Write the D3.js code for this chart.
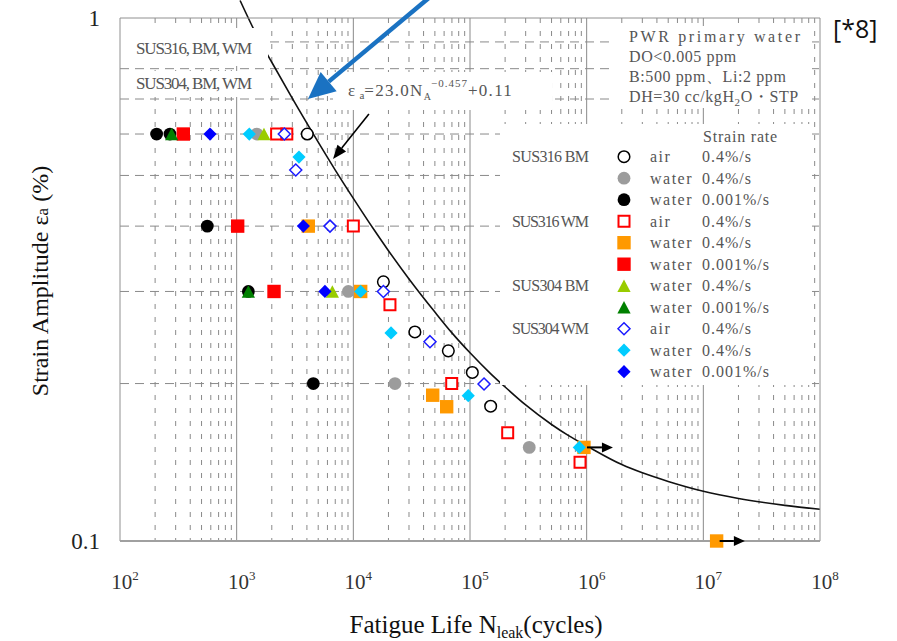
<!DOCTYPE html>
<html>
<head>
<meta charset="utf-8">
<script src="https://cdn.jsdelivr.net/npm/d3@7"></script>
<style>
  body { margin: 0; background: #fff; }
  svg { display: block; }
</style>
</head>
<body>
<svg id="chart" width="897" height="641"></svg>
<script>
////////////////////////////////   DATA   ////////////////////////////////////
// decades on the x axis (10^2 .. 10^8)
var decades = [2, 3, 4, 5, 6, 7, 8];
var yTicks = [1, 0.1];
// dashed horizontal grid levels (strain amplitude, %)
var gridLevels = [0.2, 0.3, 0.4, 0.5, 0.6, 0.7, 0.8, 0.9];

// [cycles, strain amplitude %]
var s316bmAir    = [[4030, 0.6], [18100, 0.313], [33700, 0.251], [65200, 0.231], [104700, 0.210], [150300, 0.181]];
var s316bmW04    = [[1490, 0.6], [9060, 0.3], [22750, 0.2], [322000, 0.151]];
var s316bmW0001  = [[206, 0.6], [268, 0.6], [560, 0.4], [1260, 0.3], [4540, 0.2]];
var s316wmAir    = [[2200, 0.6], [2690, 0.6], [10000, 0.4], [20600, 0.283], [69700, 0.2], [210400, 0.161], [877000, 0.1414]];
var s316wmW04    = [[4110, 0.4], [11560, 0.3], [47900, 0.190], [63100, 0.1806], [948000, 0.151], [13000000, 0.1]];
var s316wmW0001  = [[349, 0.6], [1020, 0.4], [2090, 0.3]];
var s304bmW04    = [[1714, 0.6], [6610, 0.3]];
var s304bmW0001  = [[277, 0.6], [1260, 0.3]];
var s304wmAir    = [[2560, 0.6], [3210, 0.512], [6310, 0.4], [18100, 0.3], [45400, 0.2405], [131900, 0.1996]];
var s304wmW04    = [[1283, 0.6], [3420, 0.542], [11560, 0.3], [21040, 0.250], [96600, 0.1896], [865000, 0.151]];
var s304wmW0001  = [[591, 0.6], [3730, 0.4], [5710, 0.3]];

// run-outs: [cycles, strain, arrow end cycles]
var runouts = [[948000, 0.151, 1680000], [13000000, 0.1, 22700000]];

// design curve: [cycles, strain]
var curvePts = [[1070, 1.08], [1500, 0.923], [2000, 0.823], [3000, 0.702], [5000, 0.579], [7000, 0.512],
  [10000, 0.452], [15000, 0.394], [20000, 0.359], [30000, 0.317], [50000, 0.274], [70000, 0.250],
  [100000, 0.229], [150000, 0.209], [200000, 0.197], [300000, 0.182], [500000, 0.167], [700000, 0.159],
  [1000000, 0.152], [2000000, 0.140], [3000000, 0.135], [5000000, 0.130], [10000000, 0.1245],
  [20000000, 0.1206], [50000000, 0.117], [100000000, 0.115]];

var seriesGroups = ['SUS316 BM', '', '', 'SUS316 WM', '', '', 'SUS304 BM', '', 'SUS304 WM', '', ''];
var seriesEnv    = ['air', 'water', 'water', 'air', 'water', 'water', 'water', 'water', 'air', 'water', 'water'];
var seriesRate   = ['0.4%/s', '0.4%/s', '0.001%/s', '0.4%/s', '0.4%/s', '0.001%/s', '0.4%/s', '0.001%/s', '0.4%/s', '0.4%/s', '0.001%/s'];

var pwrLines = ['PWR primary water', 'DO<0.005 ppm', 'B:500 ppm、Li:2 ppm'];

////////////////////////////////   SETUP   ///////////////////////////////////
var SERIF = '"Liberation Serif", "DejaVu Serif", serif';

var series = [
  { shape: 'circle',   open: true,  color: '#000',    data: s316bmAir },
  { shape: 'circle',   open: false, color: '#9c9c9c', data: s316bmW04 },
  { shape: 'circle',   open: false, color: '#000',    data: s316bmW0001 },
  { shape: 'square',   open: true,  color: '#ff0000', data: s316wmAir },
  { shape: 'square',   open: false, color: '#ff9900', data: s316wmW04 },
  { shape: 'square',   open: false, color: '#ff0000', data: s316wmW0001 },
  { shape: 'triangle', open: false, color: '#99cc00', data: s304bmW04 },
  { shape: 'triangle', open: false, color: '#008000', data: s304bmW0001 },
  { shape: 'diamond',  open: true,  color: '#1a1aff', data: s304wmAir },
  { shape: 'diamond',  open: false, color: '#00ccff', data: s304wmW04 },
  { shape: 'diamond',  open: false, color: '#0000ff', data: s304wmW0001 }
].map(function(s, i) {
  s.grp = seriesGroups[i]; s.env = seriesEnv[i]; s.rate = seriesRate[i];
  return s;
});

var x = d3.scaleLog().domain([1e2, 1e8]).range([120, 820]);
var y = d3.scaleLog().domain([0.1, 1]).range([541, 18]);
var svg = d3.select('#chart').attr('font-family', SERIF);

function markerPath(s) {
  var p = d3.path();
  var r;
  if (s.shape === 'circle') {
    r = s.open ? 5.8 : 6.4;
    return d3.symbol(d3.symbolCircle, Math.PI * r * r)();
  }
  if (s.shape === 'square') {
    r = s.open ? 5.5 : 6.7;
    return d3.symbol(d3.symbolSquare, 4 * r * r)();
  }
  if (s.shape === 'triangle') {
    r = 6.3;
    p.moveTo(0, -r); p.lineTo(r * 1.05, r); p.lineTo(-r * 1.05, r); p.closePath();
    return p.toString();
  }
  r = s.open ? 6 : 6.6;
  p.moveTo(0, -r); p.lineTo(r, 0); p.lineTo(0, r); p.lineTo(-r, 0); p.closePath();
  return p.toString();
}
function styleMarker(sel, s) {
  sel.attr('d', markerPath(s))
    .attr('fill', s.open ? '#fff' : s.color)
    .attr('stroke', s.open ? s.color : 'none')
    .attr('stroke-width', s.shape === 'square' ? 2 : 1.5);
}

//////////////////////////////   GRID   //////////////////////////////////////
var minorN = [];
decades.slice(0, -1).forEach(function(e) {
  d3.range(2, 10).forEach(function(k) { minorN.push(k * Math.pow(10, e)); });
});
var grid = svg.append('g').attr('class', 'grid');
grid.selectAll('line.minor').data(minorN).enter().append('line')
  .attr('class', 'minor')
  .attr('x1', x).attr('x2', x)
  .attr('y1', y(1)).attr('y2', y(0.1))
  .attr('stroke', '#8a8a8a').attr('stroke-width', 1)
  .attr('stroke-dasharray', '5,8');
grid.selectAll('line.major').data(decades.slice(1, -1)).enter().append('line')
  .attr('class', 'major')
  .attr('x1', function(d) { return x(Math.pow(10, d)); })
  .attr('x2', function(d) { return x(Math.pow(10, d)); })
  .attr('y1', y(1)).attr('y2', y(0.1))
  .attr('stroke', '#8a8a8a').attr('stroke-width', 1);
grid.selectAll('line.h').data(gridLevels).enter().append('line')
  .attr('class', 'h')
  .attr('x1', x(1e2)).attr('x2', x(1e8))
  .attr('y1', y).attr('y2', y)
  .attr('stroke', '#8a8a8a').attr('stroke-width', 1)
  .attr('stroke-dasharray', '9,6');

//////////////////////////////   CURVE   /////////////////////////////////////
svg.append('path')
  .datum(curvePts)
  .attr('fill', 'none')
  .attr('stroke', '#111')
  .attr('stroke-width', 1.6)
  .attr('d', d3.line()
    .x(function(d) { return x(d[0]); })
    .y(function(d) { return y(d[1]); })
    .curve(d3.curveMonotoneX));

// white boxes behind the text blocks (they hide the grid there)
var boxes = [[120, 28, 148, 38], [120, 71, 148, 26], [333, 72, 219, 38], [612, 26, 200, 82], [500, 124, 312, 261]];
svg.append('g').selectAll('rect').data(boxes).enter().append('rect')
  .attr('x', function(d) { return d[0]; }).attr('y', function(d) { return d[1]; })
  .attr('width', function(d) { return d[2]; }).attr('height', function(d) { return d[3]; })
  .attr('fill', '#fff');

// frame
var frame = svg.append('g').attr('stroke', '#909090').attr('fill', 'none');
frame.append('line').attr('x1', x(1e2)).attr('x2', x(1e8)).attr('y1', y(1)).attr('y2', y(1));
frame.append('line').attr('x1', x(1e2)).attr('x2', x(1e2)).attr('y1', y(1)).attr('y2', y(0.1));
frame.append('line').attr('x1', x(1e8)).attr('x2', x(1e8)).attr('y1', y(1)).attr('y2', y(0.1));
frame.append('line').attr('x1', x(1e2)).attr('x2', x(1e8)).attr('y1', y(0.1)).attr('y2', y(0.1))
  .attr('stroke', '#a0a0a0').attr('stroke-width', 2.2);

//////////////////////////////   AXES TEXT   /////////////////////////////////
svg.selectAll('text.xt').data(decades).enter().append('text')
  .attr('class', 'xt')
  .attr('x', function(d) { return x(Math.pow(10, d)) + 5; })
  .attr('y', 589)
  .attr('text-anchor', 'middle')
  .attr('font-size', 21).attr('fill', '#333')
  .each(function(d) {
    var t = d3.select(this);
    t.append('tspan').text('10');
    t.append('tspan').attr('dy', -9).attr('font-size', 13).text(d);
  });
svg.selectAll('text.yt').data(yTicks).enter().append('text')
  .attr('class', 'yt')
  .attr('x', 100)
  .attr('y', function(d) { return y(d) + 8; })
  .attr('text-anchor', 'end')
  .attr('font-size', 23).attr('fill', '#222')
  .text(function(d) { return d; });

var xl = svg.append('text')
  .attr('x', 476).attr('y', 633).attr('text-anchor', 'middle')
  .attr('font-size', 25).attr('fill', '#111');
xl.append('tspan').text('Fatigue Life N');
xl.append('tspan').attr('font-size', 16).attr('dy', 5).text('leak');
xl.append('tspan').attr('dy', -5).text('(cycles)');

var yl = svg.append('text')
  .attr('transform', 'translate(48,281) rotate(-90)')
  .attr('text-anchor', 'middle')
  .attr('font-size', 24).attr('fill', '#111');
yl.append('tspan').text('Strain Amplitude ε');
yl.append('tspan').attr('font-size', 17).text('a');
yl.append('tspan').text(' (%)');

//////////////////////////////   LABELS   ////////////////////////////////////
var labelColor = '#555';
svg.append('text').attr('x', 136).attr('y', 54)
  .attr('font-size', 17).attr('fill', labelColor).attr('textLength', 116)
  .text('SUS316, BM, WM');
svg.append('text').attr('x', 136).attr('y', 89)
  .attr('font-size', 17).attr('fill', labelColor).attr('textLength', 116)
  .text('SUS304, BM, WM');

var eq = svg.append('text').attr('x', 348).attr('y', 96)
  .attr('font-size', 17).attr('fill', labelColor);
eq.append('tspan').text('ε ');
eq.append('tspan').attr('font-size', 11).attr('dy', 3).text('a');
eq.append('tspan').attr('dy', -3).attr('letter-spacing', 1.3).text('=23.0N');
eq.append('tspan').attr('font-size', 10).attr('dy', 4).text('A');
eq.append('tspan').attr('font-size', 11).attr('dy', -13).attr('letter-spacing', 1).text('−0.457');
eq.append('tspan').attr('dy', 9).attr('letter-spacing', 1.3).text('+0.11');

var pwr = svg.append('g').attr('font-size', 16).attr('fill', labelColor);
pwr.selectAll('text').data(pwrLines).enter().append('text')
  .attr('x', 629)
  .attr('y', function(d, i) { return 42 + i * 20; })
  .attr('textLength', function(d, i) { return i === 0 ? 171 : null; })
  .attr('letter-spacing', function(d, i) { return i === 0 ? null : 0.6; })
  .text(function(d) { return d; });
var dh = pwr.append('text').attr('x', 629).attr('y', 102).attr('letter-spacing', 0.6);
dh.append('tspan').text('DH=30 cc/kgH');
dh.append('tspan').attr('font-size', 11).attr('dy', 4).text('2');
dh.append('tspan').attr('dy', -4).text('O・STP');

svg.append('text').attr('x', 833).attr('y', 38)
  .attr('font-family', '"Open Sans", "Noto Sans", sans-serif')
  .attr('font-size', 25).attr('fill', '#111').text('[*8]');

//////////////////////////////   LEGEND   ////////////////////////////////////
var leg = svg.append('g').attr('font-size', 16).attr('fill', labelColor);
leg.append('text').attr('x', 703).attr('y', 142).attr('letter-spacing', 0.8).text('Strain rate');
var rows = leg.selectAll('g.row').data(series).enter().append('g')
  .attr('class', 'row')
  .attr('transform', function(d, i) { return 'translate(0,' + (156.7 + i * 21.5) + ')'; });
rows.append('text').attr('x', 512).attr('y', 5.5).attr('textLength', function(d) { return d.grp ? 77 : null; })
  .text(function(d) { return d.grp; });
rows.append('path').attr('transform', 'translate(624,0)')
  .each(function(d) { styleMarker(d3.select(this), d); });
rows.append('text').attr('x', 650).attr('y', 5.5).attr('letter-spacing', 1.5)
  .text(function(d) { return d.env; });
rows.append('text').attr('x', 702).attr('y', 5.5).attr('letter-spacing', 1)
  .text(function(d) { return d.rate; });

//////////////////////////////   POINTS   ////////////////////////////////////
var pts = svg.append('g').attr('class', 'points');
series.forEach(function(s) {
  pts.append('g').selectAll('path').data(s.data).enter().append('path')
    .attr('transform', function(d) { return 'translate(' + x(d[0]) + ',' + y(d[1]) + ')'; })
    .each(function() { styleMarker(d3.select(this), s); });
});

//////////////////////////////   ARROWS   ////////////////////////////////////
function arrow(g, x1, y1, x2, y2, color, width, headLen, headW) {
  var a = Math.atan2(y2 - y1, x2 - x1);
  var bx = x2 - headLen * Math.cos(a), by = y2 - headLen * Math.sin(a);
  g.append('line').attr('x1', x1).attr('y1', y1).attr('x2', bx).attr('y2', by)
    .attr('stroke', color).attr('stroke-width', width);
  var nx = -Math.sin(a) * headW / 2, ny = Math.cos(a) * headW / 2;
  g.append('path')
    .attr('d', 'M' + x2 + ',' + y2 + 'L' + (bx + nx) + ',' + (by + ny) + 'L' + (bx - nx) + ',' + (by - ny) + 'Z')
    .attr('fill', color);
}
var arr = svg.append('g');
runouts.forEach(function(d) {
  arrow(arr, x(d[0]) + 3, y(d[1]), x(d[2]), y(d[1]), '#000', 2, 11, 10);
});
// pointer to the curve, [cycles, strain] start and end
var curveArrow = [[13600, 0.655], [6700, 0.5375]];
arrow(arr, x(curveArrow[0][0]), y(curveArrow[0][1]), x(curveArrow[1][0]), y(curveArrow[1][1]), '#000', 1.6, 14, 11);
var blueArrow = [[45400, 1.097], [4083, 0.7003]];
arrow(arr, x(blueArrow[0][0]), y(blueArrow[0][1]), x(blueArrow[1][0]), y(blueArrow[1][1]), '#1a72c2', 4.5, 27, 25);
</script>
</body>
</html>
